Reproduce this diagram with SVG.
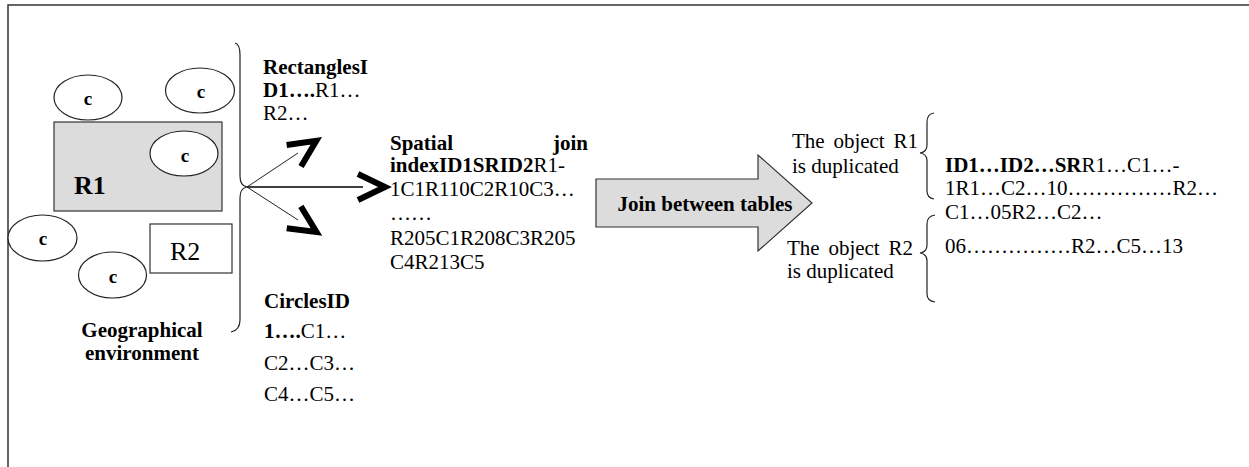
<svg xmlns="http://www.w3.org/2000/svg" width="1249" height="467" viewBox="0 0 1249 467">
<style>
text{font-family:"Liberation Serif","Times New Roman",serif;font-size:21px;fill:#000}
.b{font-weight:bold}
.ell{fill:#fff;stroke:#222;stroke-width:1.2}
.cl{font-size:19px;font-weight:bold;text-anchor:middle}
.brace{fill:none;stroke:#222;stroke-width:1.2}
.ln{fill:none;stroke:#222;stroke-width:1}
</style>
<defs>
<marker id="chev" markerUnits="userSpaceOnUse" markerWidth="40" markerHeight="40" viewBox="-5 -20 40 40" refX="5" refY="0" orient="auto" overflow="visible">
<path d="M0,-13 L27,0 L0,13" fill="none" stroke="#000" stroke-width="6" stroke-linejoin="miter"/>
</marker>
</defs>
<rect width="1249" height="467" fill="#fff"/>
<path d="M8 467 L8 5 L1249 5" fill="none" stroke="#333" stroke-width="1.5"/>

<g id="geo-env">
<rect x="54" y="122" width="168" height="89" fill="#dcdcdc" stroke="#333" stroke-width="1.2"/>
<text x="74" y="194" class="b" style="font-size:26px">R1</text>
<rect x="150" y="224" width="82" height="49" fill="#fff" stroke="#333" stroke-width="1.2"/>
<text x="170" y="260" style="font-size:26px">R2</text>
<ellipse class="ell" cx="88" cy="97.5" rx="34" ry="22.5"/>
<text class="cl" x="88" y="105">c</text>
<ellipse class="ell" cx="200" cy="90.5" rx="34.5" ry="22.5"/>
<text class="cl" x="201" y="98">c</text>
<ellipse class="ell" cx="184" cy="153.5" rx="34" ry="22.5"/>
<text class="cl" x="185" y="162">c</text>
<ellipse class="ell" cx="42.5" cy="238" rx="34.5" ry="23"/>
<text class="cl" x="43" y="245">c</text>
<ellipse class="ell" cx="112.5" cy="275" rx="34" ry="23"/>
<text class="cl" x="113" y="283">c</text>
<text x="142" y="337" class="b" text-anchor="middle">Geographical</text>
<text x="142" y="360" class="b" text-anchor="middle">environment</text>
<path class="brace" d="M235 43 Q240 44 240 55 L240 176 Q240 186 247 187 Q240 188 240 198 L240 320 Q240 330 231 332"/>
</g>

<g id="rectangles">
<text x="263" y="74" class="b">RectanglesI</text>
<text x="263" y="97"><tspan class="b">D1….</tspan>R1…</text>
<text x="263" y="120">R2…</text>
</g>

<g id="circles">
<text x="264" y="308" class="b">CirclesID</text>
<text x="264" y="338"><tspan class="b">1….</tspan>C1…</text>
<text x="264" y="370">C2…C3…</text>
<text x="264" y="401">C4…C5…</text>
</g>

<g id="spatial-join">
<text x="390" y="150" class="b">Spatial</text>
<text x="588" y="150" class="b" text-anchor="end">join</text>
<text x="390" y="172"><tspan class="b">indexID1SRID2</tspan>R1-</text>
<text x="390" y="196">1C1R110C2R10C3…</text>
<text x="390" y="220">……</text>
<text x="390" y="245">R205C1R208C3R205</text>
<text x="390" y="269">C4R213C5</text>
</g>

<g id="join-arrow">
<polygon points="596,179 758,179 758,155 812,203 758,251 758,227 596,227" fill="#dcdcdc" stroke="#333" stroke-width="1.2"/>
<text x="705" y="211" class="b" text-anchor="middle">Join between tables</text>
</g>

<g id="dup-r1">
<text x="792" y="148" word-spacing="3.5">The object R1</text>
<text x="792" y="173">is duplicated</text>
<path class="brace" d="M934 113 Q927 114 927 122 L927 145 Q927 152 920 153 Q927 154 927 161 L927 191 Q927 198 934 199"/>
</g>

<g id="dup-r2">
<text x="787" y="255" word-spacing="3.5">The object R2</text>
<text x="787" y="278">is duplicated</text>
<path class="brace" d="M935 215 Q927 216 927 224 L927 245 Q927 252 920 253 Q927 254 927 261 L927 294 Q927 301 935 302"/>
</g>

<g id="result">
<text x="945" y="172"><tspan class="b">ID1…ID2…SR</tspan>R1…C1…-</text>
<text x="945" y="195">1R1…C2…10……………R2…</text>
<text x="945" y="219">C1…05R2…C2…</text>
<text x="945" y="253">06……………R2…C5…13</text>
</g>

<g id="connectors">
<line class="ln" x1="247" y1="187" x2="298" y2="153" stroke="#444" marker-end="url(#chev)"/>
<line x1="247" y1="187" x2="363" y2="187" stroke="#000" stroke-width="1.5" marker-end="url(#chev)"/>
<line class="ln" x1="247" y1="187" x2="298" y2="220" stroke="#444" marker-end="url(#chev)"/>
</g>
</svg>
